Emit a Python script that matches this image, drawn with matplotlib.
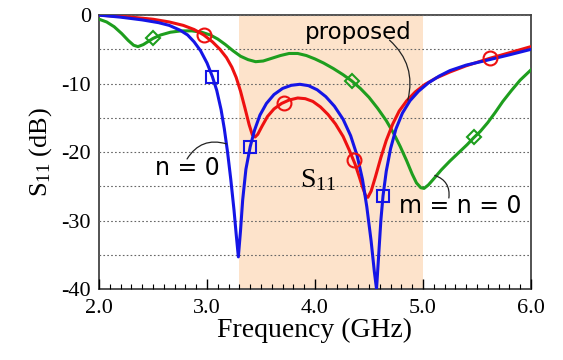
import matplotlib
matplotlib.use('Agg')
import matplotlib.pyplot as plt
from matplotlib.ticker import MultipleLocator

plt.rcParams['font.family'] = ['Liberation Serif', 'DejaVu Serif']
plt.rcParams['mathtext.fontset'] = 'custom'
plt.rcParams['mathtext.rm'] = 'Liberation Serif'
plt.rcParams['mathtext.it'] = 'Liberation Serif:italic'
plt.rcParams['axes.unicode_minus'] = False

# n = 0 (blue)
f_n0 = [2.0, 2.2, 2.4, 2.55, 2.65, 2.75, 2.82, 2.88, 2.94, 3.0, 3.05, 3.09, 3.13, 3.16,
        3.19, 3.22, 3.25, 3.27, 3.29, 3.31, 3.33, 3.36, 3.40, 3.44, 3.49, 3.55, 3.62, 3.70,
        3.78, 3.86, 3.94, 4.02, 4.10, 4.18, 4.26, 4.33, 4.39, 4.44, 4.48, 4.52, 4.55, 4.57,
        4.59, 4.61, 4.63, 4.66, 4.70, 4.75, 4.81, 4.88, 4.96, 5.05, 5.15, 5.25, 5.4, 5.59,
        5.8, 6.0]
s_n0 = [0, -0.3, -0.7, -1.1, -1.5, -2.2, -2.9, -3.9, -5.2, -7.0, -9.0, -11.0, -13.8, -16.6,
        -20.0, -24.0, -28.5, -32.0, -35.3, -31.5, -27.0, -22.5, -19.2, -16.8, -14.6, -12.9, -11.6, -10.7,
        -10.25, -10.1, -10.3, -10.9, -11.9, -13.3, -15.2, -17.6, -20.5, -24.0, -28.0, -33.0, -37.5, -40.0,
        -35.0, -30.0, -26.4, -22.8, -19.5, -16.6, -14.3, -12.5, -11.1, -9.9, -8.9, -8.1, -7.3, -6.6,
        -5.8, -5.0]
mk_n0_f = [3.05, 3.40, 4.63]
mk_n0_s = [-9.0, -19.2, -26.4]

# proposed (red)
f_prop = [2.0, 2.3, 2.5, 2.65, 2.78, 2.88, 2.97, 3.05, 3.12, 3.18, 3.23, 3.27, 3.31, 3.35,
          3.39, 3.42, 3.445, 3.47, 3.51, 3.56, 3.62, 3.69, 3.76, 3.84, 3.91, 3.98, 4.05, 4.12,
          4.19, 4.26, 4.32, 4.37, 4.41, 4.44, 4.47, 4.49, 4.52, 4.56, 4.61, 4.66, 4.72, 4.78,
          4.85, 4.93, 5.02, 5.12, 5.25, 5.4, 5.62, 5.8, 6.0]
s_prop = [0, -0.3, -0.6, -1.0, -1.5, -2.1, -2.9, -3.9, -5.0, -6.2, -7.6, -9.1, -11.1, -13.5,
          -16.0, -17.5, -17.8, -17.4, -16.2, -14.8, -13.7, -12.9, -12.4, -12.1, -12.2, -12.6, -13.4, -14.5,
          -15.9, -17.7, -19.8, -21.7, -23.6, -25.1, -26.4, -26.6, -25.7, -23.6, -20.8, -18.3, -15.9, -14.0,
          -12.5, -11.2, -10.1, -9.2, -8.3, -7.4, -6.3, -5.5, -4.6]
mk_prop_f = [2.97, 3.71, 4.36, 5.62]
mk_prop_s = [-2.9, -12.9, -21.2, -6.3]

# m = n = 0 (green)
f_mn0 = [2.0, 2.07, 2.14, 2.21, 2.27, 2.32, 2.36, 2.41, 2.46, 2.5, 2.57, 2.66, 2.76, 2.86,
         2.95, 3.03, 3.1, 3.17, 3.24, 3.31, 3.38, 3.45, 3.52, 3.6, 3.68, 3.76, 3.84, 3.92,
         4.0, 4.08, 4.17, 4.26, 4.34, 4.42, 4.5, 4.58, 4.66, 4.73, 4.79, 4.85, 4.9, 4.94,
         4.98, 5.01, 5.05, 5.1, 5.17, 5.25, 5.33, 5.41, 5.47, 5.53, 5.6, 5.67, 5.74, 5.82,
         5.9, 6.0]
s_mn0 = [-0.6, -1.0, -1.7, -2.7, -3.7, -4.4, -4.6, -4.3, -3.8, -3.4, -2.9, -2.5, -2.3, -2.3,
         -2.5, -2.9, -3.5, -4.3, -5.2, -6.0, -6.5, -6.8, -6.7, -6.3, -5.9, -5.6, -5.6, -5.9,
         -6.4, -7.0, -7.8, -8.7, -9.6, -10.7, -12.0, -13.6, -15.4, -17.3, -19.2, -21.3, -23.2, -24.5,
         -25.2, -25.3, -24.8, -23.9, -22.6, -21.3, -20.1, -18.9, -17.9, -17.0, -15.7, -14.2, -12.6, -11.0,
         -9.5, -8.0]
mk_mn0_f = [2.5, 4.34, 5.47]
mk_mn0_s = [-3.4, -9.6, -17.8]

band = (3.3, 5.0)

sans = ['DejaVu Sans']

fig = plt.figure(figsize=(5.63, 3.6), dpi=100)
ax = fig.add_axes([0.176, 0.197, 0.767, 0.761])

ax.axvspan(band[0], band[1], color='#fde3cb', lw=0, zorder=0)

ax.plot(f_mn0, s_mn0, color='#1e9e1e', lw=2.2, zorder=3)
ax.plot(mk_mn0_f, mk_mn0_s, ls='none', marker='D', ms=7.5, mfc='none', mec='#1e9e1e', mew=1.5, zorder=4)
ax.plot(f_prop, s_prop, color='#ee1111', lw=2.2, zorder=3)
ax.plot(mk_prop_f, mk_prop_s, ls='none', marker='o', ms=10, mfc='none', mec='#ee1111', mew=1.5, zorder=4)
ax.plot(f_n0, s_n0, color='#1515e6', lw=2.2, zorder=3)
ax.plot(mk_n0_f, mk_n0_s, ls='none', marker='s', ms=8.5, mfc='none', mec='#1515e6', mew=1.5, zorder=4)

ax.set_xlim(2.0, 6.0)
ax.set_ylim(-40, 0)
ax.set_xticks([2.0, 3.0, 4.0, 5.0, 6.0])
ax.set_xticklabels(['2.0', '3.0', '4.0', '5.0', '6.0'])
ax.xaxis.set_minor_locator(MultipleLocator(0.1))
ax.set_yticks([0, -10, -20, -30, -40])
ax.set_yticks(range(-35, 0, 5), minor=True)
ax.yaxis.grid(True, which='both', ls=(0, (1.5, 2)), color='#666666', lw=0.8, zorder=1)
ax.set_axisbelow(False)
ax.tick_params(axis='both', which='both', direction='in', labelsize=16)
ax.tick_params(axis='x', which='major', length=7, width=1, pad=7)
ax.tick_params(axis='x', which='minor', length=3.5, width=0.8)
ax.tick_params(axis='y', which='major', length=0, pad=6)
ax.tick_params(axis='y', which='minor', length=0)
for sp in ax.spines.values():
    sp.set_color('#444444')
    sp.set_linewidth(1.3)

ax.set_xlabel('Frequency (GHz)', fontsize=20, labelpad=0)
ax.set_ylabel('S$_{11}$ (dB)', fontsize=19, labelpad=5)

ax.text(4.03, -24.1, 'S$_{11}$', fontsize=20, ha='center', va='center')

# labels and leader lines
ax.text(2.82, -22.3, 'n = 0', family=sans, fontsize=17, ha='center', va='center')
ax.text(4.40, -2.6, 'proposed', family=sans, fontsize=16.5, ha='center', va='center')
ax.text(5.35, -27.9, 'm = n = 0', family=sans, fontsize=17, ha='center', va='center')

leader = dict(arrowstyle='-', color='#222222', lw=0.9, shrinkA=0, shrinkB=0)
ax.annotate('', xy=(3.18, -18.8), xytext=(2.815, -21.0),
            arrowprops=dict(leader, connectionstyle='arc3,rad=-0.38'))
ax.annotate('', xy=(4.86, -12.4), xytext=(4.69, -3.65),
            arrowprops=dict(leader, connectionstyle='arc3,rad=-0.3'))
ax.annotate('', xy=(5.24, -26.7), xytext=(5.11, -23.4),
            arrowprops=dict(leader, connectionstyle='arc3,rad=-0.4'))

fig.savefig('out.png', dpi=100)
